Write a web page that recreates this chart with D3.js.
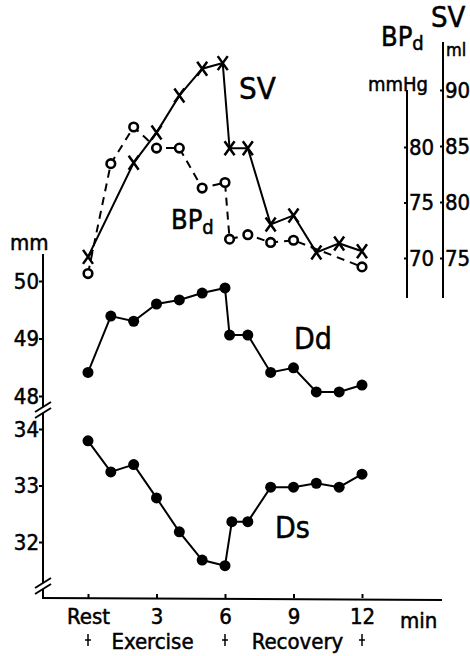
<!DOCTYPE html>
<html>
  <head>
    <meta charset="UTF-8">
    <title>SV, BPd, Dd and Ds during exercise and recovery</title>
    <script src="https://d3js.org/d3.v7.min.js"></script>
    <style>
      body { margin: 0; background: #fff; }
      svg text {
        font-family: "DejaVu Sans Condensed", "Liberation Sans Narrow", "DejaVu Sans", sans-serif;
        fill: #000;
        stroke: #000;
        stroke-width: 0.5px;
      }
      .axis text { font-size: 22px; }
      .axis line, .axis path { stroke: #000; stroke-width: 2px; }
      .line { fill: none; stroke: #000; stroke-width: 2px; }
    </style>
  </head>
  <body>
    <div id="chart"></div>
    <script>
      // time in minutes after rest (0 = Rest)
      const svTime = [0, 2, 3, 4, 5, 5.9, 6.2, 7, 8, 9, 10, 11, 12];
      const svValues = [75.1, 83.5, 86.2, 89.5, 91.9, 92.4, 84.8, 84.8, 78.0, 78.8, 75.5, 76.3, 75.6];

      const bpTime = [0, 1, 2, 3, 4, 5, 6, 6.2, 7, 8, 9, 12];
      const bpValues = [68.6, 78.5, 81.8, 79.9, 79.9, 76.3, 76.8, 71.7, 72.1, 71.4, 71.6, 69.2];

      const ddTime = [0, 1, 2, 3, 4, 5, 6, 6.2, 7, 8, 9, 10, 11, 12];
      const ddValues = [48.41, 49.39, 49.30, 49.60, 49.67, 49.79, 49.88, 49.06, 49.06, 48.41, 48.49, 48.07, 48.07, 48.19];

      const dsTime = [0, 1, 2, 3, 4, 5, 6, 6.3, 7, 8, 9, 10, 11, 12];
      const dsValues = [33.79, 33.24, 33.37, 32.78, 32.18, 31.68, 31.58, 32.36, 32.36, 32.97, 32.97, 33.04, 32.97, 33.20];

      const xTicks = [0, 3, 6, 9, 12];
      const ddTicks = [48, 49, 50];
      const dsTicks = [32, 33, 34];
      const bpTicks = [70, 75, 80];
      const svTicks = [75, 80, 85, 90];

      const width = 470;
      const height = 656;

      const svg = d3.select("#chart")
        .append("svg")
        .attr("width", width)
        .attr("height", height);

      const x = d3.scaleLinear().domain([0, 12]).range([88, 362]);
      const yDd = d3.scaleLinear().domain([48, 50]).range([396, 281]);
      const yDs = d3.scaleLinear().domain([32, 34]).range([542, 429]);
      const yBp = d3.scaleLinear().domain([70, 80]).range([258, 147]);
      const ySv = d3.scaleLinear().domain([75, 90]).range([258, 90]);

      const zip = (t, v) => t.map((d, i) => [d, v[i]]);
      const fmt = d3.format("d");

      // left axes (mm)
      svg.append("line")
        .attr("x1", 43).attr("x2", 43).attr("y1", 254).attr("y2", 599)
        .attr("stroke", "#000").attr("stroke-width", 2);

      svg.append("g").attr("class", "axis")
        .attr("transform", "translate(43,0)")
        .call(d3.axisLeft(yDd).tickValues(ddTicks).tickFormat(fmt).tickSize(4).tickPadding(0))
        .call(g => g.select(".domain").remove());

      svg.append("g").attr("class", "axis")
        .attr("transform", "translate(43,0)")
        .call(d3.axisLeft(yDs).tickValues(dsTicks).tickFormat(fmt).tickSize(4).tickPadding(0))
        .call(g => g.select(".domain").remove());

      // axis break marks
      [410, 586].forEach(yb => {
        svg.append("line")
          .attr("x1", 43).attr("x2", 43).attr("y1", yb - 3).attr("y2", yb + 3)
          .attr("stroke", "#fff").attr("stroke-width", 4);
        [-3, 3].forEach(o => {
          svg.append("line")
            .attr("x1", 35).attr("x2", 51)
            .attr("y1", yb + o + 5).attr("y2", yb + o - 5)
            .attr("stroke", "#000").attr("stroke-width", 2);
        });
      });

      svg.append("text").attr("x", 10).attr("y", 250)
        .style("font-size", "22px").text("mm");

      // bottom axis
      svg.append("line")
        .attr("x1", 43).attr("x2", 442).attr("y1", 598).attr("y2", 600)
        .attr("stroke", "#000").attr("stroke-width", 2);

      svg.append("g").attr("class", "axis")
        .attr("transform", "translate(0,598)")
        .call(d3.axisBottom(x).tickValues(xTicks).tickSize(-4).tickPadding(10)
          .tickFormat(d => d === 0 ? "Rest" : d))
        .call(g => g.select(".domain").remove());

      svg.append("text").attr("x", 400).attr("y", 628)
        .style("font-size", "22px").text("min");

      // phase markers
      [0, 6, 12].forEach(t => {
        svg.append("line")
          .attr("x1", x(t)).attr("x2", x(t)).attr("y1", 634).attr("y2", 646)
          .attr("stroke", "#000").attr("stroke-width", 1.5);
        svg.append("line")
          .attr("x1", x(t) - 3).attr("x2", x(t) + 3).attr("y1", 640).attr("y2", 640)
          .attr("stroke", "#000").attr("stroke-width", 1.5);
      });
      svg.append("text").attr("x", x(3) - 4).attr("y", 649)
        .attr("text-anchor", "middle").style("font-size", "22px").text("Exercise");
      svg.append("text").attr("x", x(9) + 4).attr("y", 649)
        .attr("text-anchor", "middle").style("font-size", "22px").text("Recovery");

      // right axes
      svg.append("line")
        .attr("x1", 407).attr("x2", 407).attr("y1", 90).attr("y2", 298)
        .attr("stroke", "#000").attr("stroke-width", 2);
      svg.append("g").attr("class", "axis")
        .attr("transform", "translate(407,0)")
        .call(d3.axisRight(yBp).tickValues(bpTicks).tickSize(-3).tickPadding(2))
        .call(g => g.select(".domain").remove());

      svg.append("line")
        .attr("x1", 443).attr("x2", 443).attr("y1", 42).attr("y2", 298)
        .attr("stroke", "#000").attr("stroke-width", 2);
      svg.append("g").attr("class", "axis")
        .attr("transform", "translate(443,0)")
        .call(d3.axisRight(ySv).tickValues(svTicks).tickSize(-3).tickPadding(2))
        .call(g => g.select(".domain").remove());

      const bpHead = svg.append("text").attr("x", 381).attr("y", 46).style("font-size", "27px");
      bpHead.append("tspan").text("BP");
      bpHead.append("tspan").attr("dy", 4).style("font-size", "20px").text("d");
      svg.append("text").attr("x", 431).attr("y", 27).style("font-size", "29px").text("SV");
      svg.append("text").attr("x", 446).attr("y", 56).style("font-size", "18px").text("ml");
      svg.append("text").attr("x", 368).attr("y", 91).style("font-size", "20px").text("mmHg");

      // lines
      const line = (ys) => d3.line().x(d => x(d[0])).y(d => ys(d[1]));

      svg.append("path").attr("class", "line")
        .attr("stroke-dasharray", "8,6")
        .attr("d", line(yBp)(zip(bpTime, bpValues)));

      svg.append("path").attr("class", "line")
        .attr("d", line(ySv)(zip(svTime, svValues)));

      svg.append("path").attr("class", "line")
        .attr("d", line(yDd)(zip(ddTime, ddValues)));

      svg.append("path").attr("class", "line")
        .attr("d", line(yDs)(zip(dsTime, dsValues)));

      // markers
      svg.selectAll(".bp").data(zip(bpTime, bpValues)).enter()
        .append("circle").attr("class", "bp")
        .attr("cx", d => x(d[0])).attr("cy", d => yBp(d[1])).attr("r", 4.3)
        .attr("fill", "#fff").attr("stroke", "#000").attr("stroke-width", 2.6);

      svg.selectAll(".sv").data(zip(svTime, svValues)).enter()
        .append("path").attr("class", "sv")
        .attr("transform", d => `translate(${x(d[0])},${ySv(d[1])})`)
        .attr("d", "M-5,-7L5,7M5,-7L-5,7")
        .attr("stroke", "#000").attr("stroke-width", 2.5);

      svg.selectAll(".dd").data(zip(ddTime, ddValues)).enter()
        .append("circle").attr("class", "dd")
        .attr("cx", d => x(d[0])).attr("cy", d => yDd(d[1])).attr("r", 5.5)
        .attr("fill", "#000");

      svg.selectAll(".ds").data(zip(dsTime, dsValues)).enter()
        .append("circle").attr("class", "ds")
        .attr("cx", d => x(d[0])).attr("cy", d => yDs(d[1])).attr("r", 5.5)
        .attr("fill", "#000");

      // series labels
      svg.append("text").attr("x", 239).attr("y", 99).style("font-size", "31px").text("SV");
      const bpLab = svg.append("text").attr("x", 171).attr("y", 229).style("font-size", "27px");
      bpLab.append("tspan").text("BP");
      bpLab.append("tspan").attr("dy", 5).style("font-size", "20px").text("d");
      svg.append("text").attr("x", 294).attr("y", 349).style("font-size", "30px").text("Dd");
      svg.append("text").attr("x", 275).attr("y", 538).style("font-size", "30px").text("Ds");
    </script>
  </body>
</html>
